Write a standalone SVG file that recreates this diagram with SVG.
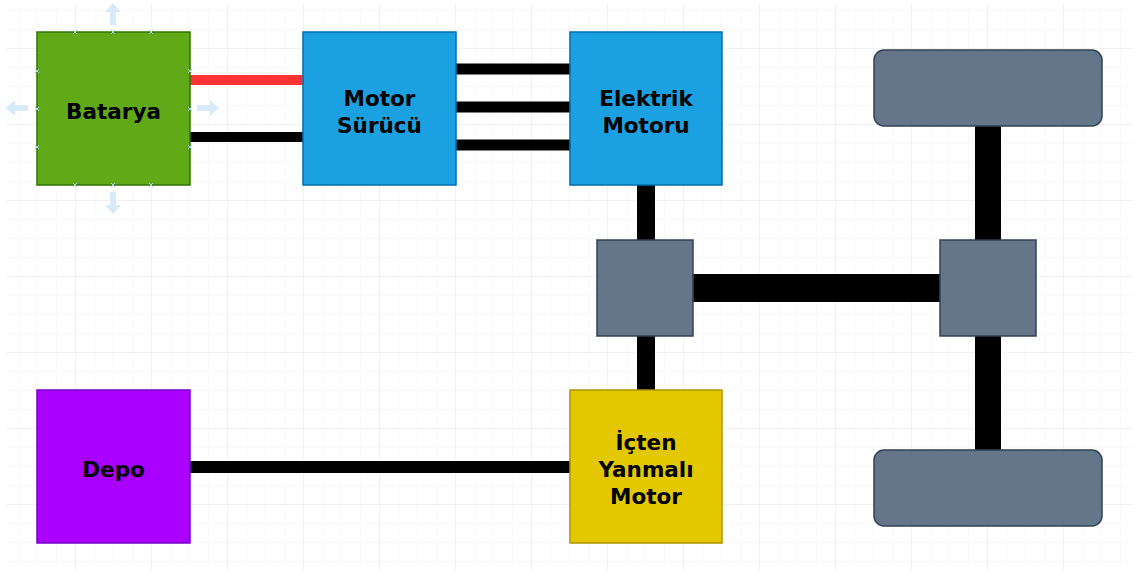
<svg xmlns="http://www.w3.org/2000/svg" width="1136" height="576" viewBox="0 0 1136 576">
  <defs>
    <pattern id="minor" x="0" y="11" width="19" height="19" patternUnits="userSpaceOnUse">
      <path d="M19 0V19M0 19H19" fill="none" stroke="#f4f4f4" stroke-width="1"/>
    </pattern>
    <pattern id="major" x="0" y="49" width="76" height="76" patternUnits="userSpaceOnUse">
      <path d="M76 0V76M0 76H76" fill="none" stroke="#e8e8e8" stroke-width="1"/>
    </pattern>
    <style>
      .lbl { font-family: "DejaVu Sans", Verdana, sans-serif; font-weight: bold; font-size: 21.5px; fill: #000; text-anchor: middle; }
      .wire { stroke: #000; fill: none; }
      .gray { fill: #647687; stroke: #314354; stroke-width: 1.5; }
      .hint { fill: #d6eaf8; }
      .xm { stroke: #a8d4f0; stroke-width: 1; }
    </style>
  </defs>
  <rect width="1136" height="576" fill="#fff"/>
  <rect x="6" y="4" width="1126" height="566" fill="url(#minor)"/>
  <rect x="6" y="4" width="1126" height="566" fill="url(#major)"/>

  <g id="connectors">
    <line class="wire" x1="190" y1="80" x2="303" y2="80" style="stroke:#ff3333" stroke-width="10"/>
    <line class="wire" x1="190" y1="137" x2="303" y2="137" stroke-width="10"/>
    <line class="wire" x1="456" y1="69" x2="570" y2="69" stroke-width="11"/>
    <line class="wire" x1="456" y1="107" x2="570" y2="107" stroke-width="11"/>
    <line class="wire" x1="456" y1="145" x2="570" y2="145" stroke-width="11"/>
    <line class="wire" x1="646" y1="185" x2="646" y2="240" stroke-width="18"/>
    <line class="wire" x1="646" y1="336" x2="646" y2="390" stroke-width="18"/>
    <line class="wire" x1="693" y1="288" x2="940" y2="288" stroke-width="28"/>
    <line class="wire" x1="988" y1="126" x2="988" y2="450" stroke-width="26"/>
    <line class="wire" x1="190" y1="467" x2="570" y2="467" stroke-width="12"/>
  </g>

  <g id="batarya">
    <rect x="37" y="32" width="153" height="153" fill="#60a917" stroke="#2d7600" stroke-width="1.5"/>
    <text class="lbl" x="113.5" y="119">Batarya</text>
  </g>
  <g id="batarya-hints">
    <path class="hint" d="M113 3 L105 12 L110 12 L110 25 L116 25 L116 12 L121 12 Z"/>
    <path class="hint" d="M113 214 L105 205 L110 205 L110 192 L116 192 L116 205 L121 205 Z"/>
    <path class="hint" d="M6 108 L15 100 L15 105 L28 105 L28 111 L15 111 L15 116 Z"/>
    <path class="hint" d="M219 108 L210 100 L210 105 L197 105 L197 111 L210 111 L210 116 Z"/>
    <g class="xm">
      <path d="M73 30l4 4M77 30l-4 4M111 30l4 4M115 30l-4 4M149 30l4 4M153 30l-4 4"/>
      <path d="M73 183l4 4M77 183l-4 4M111 183l4 4M115 183l-4 4M149 183l4 4M153 183l-4 4"/>
      <path d="M35 69l4 4M39 69l-4 4M35 107l4 4M39 107l-4 4M35 145l4 4M39 145l-4 4"/>
      <path d="M188 69l4 4M192 69l-4 4M188 107l4 4M192 107l-4 4M188 145l4 4M192 145l-4 4"/>
    </g>
  </g>

  <g id="motor-surucu">
    <rect x="303" y="32" width="153" height="153" fill="#1ba1e2" stroke="#006eaf" stroke-width="1.5"/>
    <text class="lbl" x="379.5" y="106">Motor</text>
    <text class="lbl" x="379.5" y="133">Sürücü</text>
  </g>

  <g id="elektrik-motoru">
    <rect x="570" y="32" width="152" height="153" fill="#1ba1e2" stroke="#006eaf" stroke-width="1.5"/>
    <text class="lbl" x="646" y="106">Elektrik</text>
    <text class="lbl" x="646" y="133">Motoru</text>
  </g>

  <g id="gear-left">
    <rect class="gray" x="597" y="240" width="96" height="96"/>
  </g>
  <g id="gear-right">
    <rect class="gray" x="940" y="240" width="96" height="96"/>
  </g>
  <g id="wheel-top">
    <rect class="gray" x="874" y="50" width="228" height="76" rx="10"/>
  </g>
  <g id="wheel-bottom">
    <rect class="gray" x="874" y="450" width="228" height="76" rx="10"/>
  </g>

  <g id="depo">
    <rect x="37" y="390" width="153" height="153" fill="#aa00ff" stroke="#7700cc" stroke-width="1.5"/>
    <text class="lbl" x="113.5" y="477">Depo</text>
  </g>

  <g id="icten-yanmali-motor">
    <rect x="570" y="390" width="152" height="153" fill="#e3c800" stroke="#b09500" stroke-width="1.5"/>
    <text class="lbl" x="646" y="450">İçten</text>
    <text class="lbl" x="646" y="477">Yanmalı</text>
    <text class="lbl" x="646" y="504">Motor</text>
  </g>
</svg>
